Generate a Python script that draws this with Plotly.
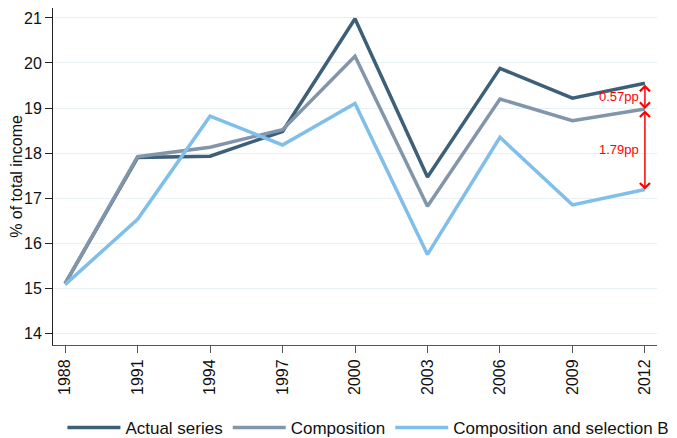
import plotly.graph_objects as go

years = [1988, 1991, 1994, 1997, 2000, 2003, 2006, 2009, 2012]
actual = [15.10, 17.90, 17.93, 18.48, 20.98, 17.47, 19.88, 19.22, 19.55]
composition = [15.10, 17.92, 18.13, 18.52, 20.15, 16.82, 19.20, 18.72, 18.98]
comp_sel = [15.08, 16.53, 18.82, 18.18, 19.10, 15.75, 18.35, 16.85, 17.19]
series_names = ["Actual series", "Composition", "Composition and selection B"]
colors = ["#3e5f78", "#8196aa", "#7fbfe9"]
gap_labels = ["0.57pp", "1.79pp"]
y_ticks = [14, 15, 16, 17, 18, 19, 20, 21]

FONT = "Arial, Liberation Sans, sans-serif"

fig = go.Figure()
for name, vals, col in zip(series_names, [actual, composition, comp_sel], colors):
    fig.add_trace(go.Scatter(x=years, y=vals, mode="lines", name=name,
                             line=dict(color=col, width=3.5)))

last = len(years) - 1
x_end = years[last]
pairs = [(actual[last], composition[last]), (composition[last], comp_sel[last])]
for (top, bot), lab in zip(pairs, gap_labels):
    fig.add_annotation(x=x_end, y=bot, ax=x_end, ay=top, xref="x", yref="y",
                       axref="x", ayref="y", text="", showarrow=True,
                       arrowside="end+start", arrowhead=4, startarrowhead=4,
                       arrowsize=1.3, startarrowsize=1.3, arrowwidth=1.5,
                       arrowcolor="#ff0000", standoff=0, startstandoff=0)
    fig.add_annotation(x=x_end, y=(top + bot) / 2, xref="x", yref="y", text=lab,
                       showarrow=False, xanchor="right", xshift=-4,
                       font=dict(color="#ff0000", size=13, family=FONT))

fig.update_layout(
    width=677, height=438,
    margin=dict(l=45, r=28, t=0, b=101, autoexpand=False),
    paper_bgcolor="white", plot_bgcolor="white",
    font=dict(family=FONT, color="#111", size=16),
    showlegend=True,
    legend=dict(orientation="h", x=-0.001, xanchor="left", y=-0.163, yanchor="top",
                font=dict(size=17, family=FONT), itemwidth=53,
                borderwidth=10, bordercolor="rgba(0,0,0,0)",
                bgcolor="rgba(0,0,0,0)", traceorder="normal"),
)
fig.update_xaxes(range=[1987.5, 2012.5], tickmode="array", tickvals=years,
                 ticktext=[str(y) for y in years], tickangle=-90,
                 showgrid=False, zeroline=False, showline=True, linecolor="#555",
                 linewidth=1, ticks="outside", ticklen=7, tickcolor="#555",
                 tickfont=dict(size=16))
fig.update_yaxes(range=[13.74, 21.22], tickmode="array", tickvals=y_ticks,
                 showgrid=True, gridcolor="#e9f0f3", gridwidth=1, zeroline=False,
                 showline=True, linecolor="#222", linewidth=1, ticks="outside",
                 ticklen=7, tickcolor="#222", tickfont=dict(size=16),
                 title=dict(text="% of total income", font=dict(size=16), standoff=0))

fig.write_html("out.html")
